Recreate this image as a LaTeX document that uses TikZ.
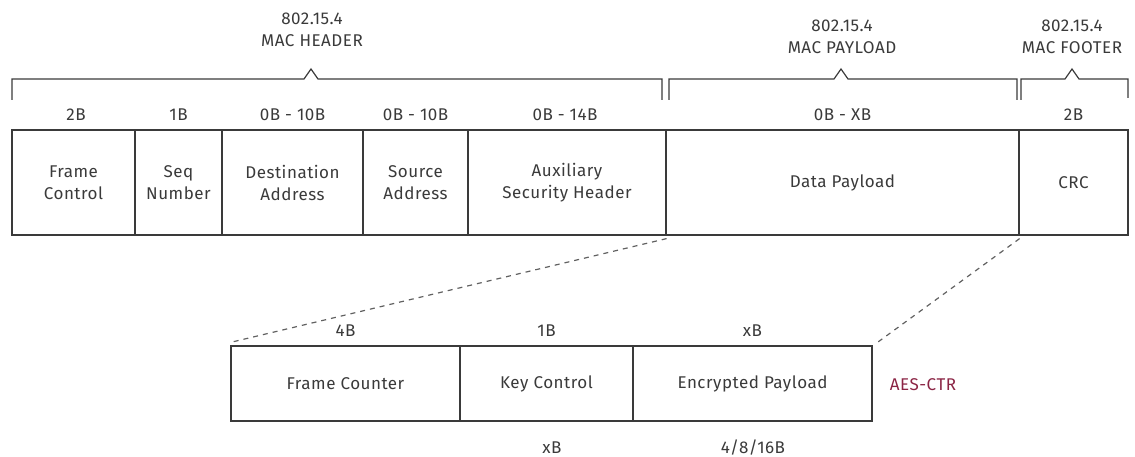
\documentclass[tikz,border=0pt]{standalone}
\usepackage{fontspec}
\setmainfont[LetterSpace=3]{Fira Sans}
\definecolor{ink}{HTML}{3A3A3A}
\definecolor{aes}{HTML}{8B2545}
\begin{document}
\begin{tikzpicture}[x=1pt,y=1pt,
  cell/.style={draw=ink,line width=1.2pt,inner sep=0pt,align=center,text=ink,font=\fontsize{17}{22}\selectfont},
  lbl/.style={inner sep=0pt,text=ink,font=\fontsize{17}{22}\selectfont,align=center},
  brace/.style={draw=ink,line width=1.2pt},
  zoomline/.style={draw=ink!80,line width=1.2pt,dash pattern=on 5pt off 5pt}]
\useasboundingbox (0,0) rectangle (1135,-457);
% top row
\node[cell,minimum width=123pt,minimum height=105pt] (fc) at (73.5,-182.5) {Frame\\Control};
\node[cell,minimum width=87pt,minimum height=105pt] (seq) at (178.5,-182.5) {Seq\\Number};
\node[cell,minimum width=141pt,minimum height=105pt] (dst) at (292.5,-182.5) {Destination\\Address};
\node[cell,minimum width=105pt,minimum height=105pt] (src) at (415.5,-182.5) {Source\\Address};
\node[cell,minimum width=198pt,minimum height=105pt] (aux) at (567,-182.5) {Auxiliary\\Security Header};
\node[cell,minimum width=353pt,minimum height=105pt] (dat) at (842.5,-182.5) {Data Payload};
\node[cell,minimum width=109pt,minimum height=105pt] (crc) at (1073.5,-182.5) {CRC};
% size labels
\node[lbl] (s1) at (76,-115) {2B};
\node[lbl] (s2) at (178.5,-115) {1B};
\node[lbl] (s3) at (292.5,-115) {0B - 10B};
\node[lbl] (s4) at (415.5,-115) {0B - 10B};
\node[lbl] (s5) at (565,-115) {0B - 14B};
\node[lbl] (s6) at (842.5,-115) {0B - XB};
\node[lbl] (s7) at (1073.5,-115) {2B};
% braces
\draw[brace] (12,-100) -- (12,-79) -- (304,-79) -- (311,-69) -- (318,-79) -- (662,-79) -- (662,-100);
\draw[brace] (669,-100) -- (669,-79) -- (834,-79) -- (841,-69) -- (848,-79) -- (1017,-79) -- (1017,-100);
\draw[brace] (1021,-100) -- (1021,-79) -- (1065,-79) -- (1072,-69) -- (1079,-79) -- (1128,-79) -- (1128,-98);
% group labels
\node[lbl] (hdr) at (312,-30) {802.15.4\\MAC HEADER};
\node[lbl] (pay) at (842,-37) {802.15.4\\MAC PAYLOAD};
\node[lbl] (ftr) at (1072,-37) {802.15.4\\MAC FOOTER};
% bottom row
\node[cell,minimum width=229pt,minimum height=75pt] (cnt) at (345.5,-383.5) {Frame Counter};
\node[cell,minimum width=173pt,minimum height=75pt] (key) at (546.5,-383.5) {Key Control};
\node[cell,minimum width=239pt,minimum height=75pt] (enc) at (752.5,-383.5) {Encrypted Payload};
\node[lbl] (b1) at (345.5,-331) {4B};
\node[lbl] (b2) at (546.5,-331) {1B};
\node[lbl] (b3) at (752.5,-331) {xB};
\node[lbl] (b4) at (552,-448) {xB};
\node[lbl] (b5) at (753,-448) {4/8/16B};
\node[lbl,text=aes] (aes) at (923,-385) {AES-CTR};
% zoom lines
\coordinate (zr) at (878,-342);
\draw[zoomline] ([yshift=-3pt]aux.south east) -- ([yshift=3pt]cnt.north west);
\draw[zoomline] ([yshift=-3pt]dat.south east) -- (zr);
\end{tikzpicture}
\end{document}
